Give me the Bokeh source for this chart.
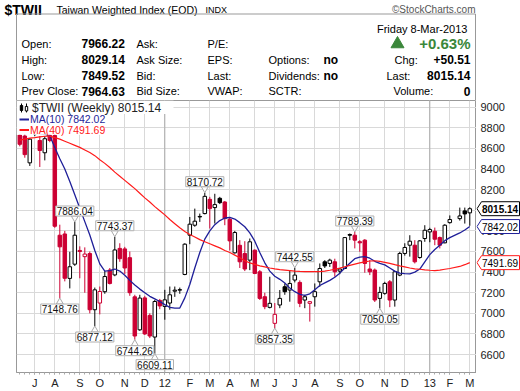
import numpy as np
import pandas as pd
from bokeh.plotting import figure
from bokeh.layouts import column, row
from bokeh.models import Range1d, FixedTicker, Span, Label, ColumnDataSource, Grid
from bokeh.embed import file_html
from bokeh.resources import INLINE
from bokeh.core.properties import value

FONT = "Liberation Sans"
RED = "#cc0033"
BLUE = "#1f1f99"
MA40C = "#ff1a1a"
GRID = "#d9d9d9"
GREEN = "#3b873b"

# ---------------- data ----------------
week_ending = pd.date_range("2011-06-17", "2013-03-08", freq="W-FRI")
week_ending = week_ending[week_ending != pd.Timestamp("2013-02-15")]  # no trading (Lunar New Year)

opens = [8730, 8720, 8460, 8790, 8677, 8558, 8726, 8726, 7758, 7770,
         7339, 7477, 7610, 7550, 7580, 7035, 7100, 7210, 7420, 7373,
         7630, 7625, 7540, 7160, 6840, 7150, 6980, 6770, 7125, 7067,
         7100, 7215, 7225, 7377, 7758, 7855, 7940, 7968, 8106, 8026,
         8116, 8080, 7913, 7587, 7660, 7580, 7516, 7613, 7403, 7161,
         7058, 6903, 7081, 7258, 7226, 7323, 7300, 7129, 7097, 7161,
         7306, 7500, 7484, 7500, 7410, 7435, 7765, 7758, 7695, 7710,
         7430, 7420, 7145, 7194, 7306, 7129, 7371, 7581, 7661, 7661,
         7542, 7726, 7790, 7797, 7735, 7684, 7880, 7919, 7994, 7975]
highs = [8790, 8760, 8700, 8830, 8720, 8720, 8780, 8760, 7860, 7800,
         7597, 7886.04, 7650, 7640, 7600, 7250, 7260, 7410, 7440, 7743.37,
         7680, 7645, 7600, 7180, 7180, 7170, 7000, 7130, 7140, 7228,
         7260, 7260, 7250, 7680, 7935, 8016, 7968, 8170.72, 8130, 8160,
         8130, 8090, 7935, 7800, 7710, 7700, 7726, 7620, 7420, 7200,
         7355, 7100, 7226, 7290, 7420, 7442.55, 7320, 7180, 7120, 7290,
         7484, 7516, 7530, 7530, 7440, 7740, 7775, 7789.39, 7710, 7720,
         7516, 7435, 7258, 7306, 7323, 7410, 7597, 7680, 7758, 7710,
         7710, 7855, 7830, 7832, 7745, 7865, 7950, 8026, 8026, 8029.14]
lows = [8620, 8510, 8430, 8720, 8420, 8484, 8660, 7830, 7148.76, 7310,
        7242, 7460, 7340, 7200, 7000, 6877.12, 6990, 7190, 7280, 7360,
        7500, 7380, 7170, 6744.26, 6830, 6790, 6760, 6609.11, 7040, 6938,
        7035, 7160, 7190, 7370, 7671, 7840, 7887, 7960, 7823, 7871,
        8060, 7855, 7610, 7580, 7440, 7410, 7419, 7380, 7130, 7040,
        7048, 6857.35, 7050, 7180, 7113, 7300, 7060, 7050, 6920, 7065,
        7258, 7440, 7450, 7355, 7380, 7430, 7710, 7630, 7597, 7394,
        7371, 7110, 7050.05, 7180, 7060, 7065, 7360, 7560, 7550, 7484,
        7530, 7694, 7690, 7661, 7630, 7680, 7870, 7900, 7871, 7849.52]
closes = [8640, 8540, 8690, 8740, 8580, 8694, 8677, 7845, 7645, 7340,
          7452, 7758, 7600, 7575, 7035, 7228, 7212, 7357, 7290, 7615,
          7530, 7440, 7200, 6780, 7148, 6800, 6780, 7115, 7072, 7131,
          7180, 7225, 7230, 7671, 7865, 7894, 7935, 8135, 8016, 8055,
          8074, 7919, 7703, 7784, 7500, 7430, 7694, 7387, 7145, 7065,
          7097, 6990, 7145, 7210, 7290, 7371, 7097, 7161, 7113, 7210,
          7435, 7460, 7516, 7403, 7430, 7735, 7758, 7710, 7684, 7484,
          7403, 7129, 7203, 7290, 7129, 7403, 7581, 7639, 7700, 7500,
          7703, 7806, 7813, 7719, 7661, 7855, 7910, 7945, 7964.63, 8015.14]
ma10 = [8760, 8755, 8750, 8748, 8745, 8738, 8722, 8610, 8500, 8400,
        8280, 8150, 8020, 7890, 7760, 7610, 7480, 7410, 7415, 7430,
        7410, 7370, 7320, 7275, 7235, 7200, 7165, 7140, 7115, 7085,
        7058, 7050, 7052, 7150, 7280, 7440, 7590, 7720, 7800, 7860,
        7900, 7925, 7930, 7915, 7880, 7840, 7780, 7700, 7590, 7490,
        7410, 7360, 7330, 7295, 7245, 7210, 7185, 7175, 7190, 7230,
        7270, 7295, 7320, 7350, 7390, 7440, 7485, 7530, 7545, 7550,
        7535, 7505, 7485, 7470, 7440, 7410, 7390, 7385, 7383, 7400,
        7430, 7500, 7570, 7620, 7660, 7705, 7735, 7780, 7808, 7842.02]
ma40 = [8680, 8690, 8700, 8705, 8712, 8718, 8720, 8705, 8690, 8670,
        8650, 8630, 8610, 8585, 8560, 8530, 8490, 8455, 8415, 8370,
        8330, 8290, 8250, 8210, 8165, 8120, 8080, 8035, 7995, 7955,
        7910, 7870, 7830, 7795, 7765, 7740, 7715, 7695, 7675, 7655,
        7635, 7610, 7590, 7565, 7540, 7510, 7490, 7475, 7460, 7450,
        7440, 7432, 7425, 7420, 7415, 7410, 7407, 7405, 7404, 7404,
        7405, 7410, 7418, 7428, 7438, 7452, 7465, 7478, 7490, 7500,
        7508, 7510, 7505, 7495, 7485, 7472, 7460, 7450, 7440, 7432,
        7428, 7422, 7418, 7415, 7420, 7428, 7435, 7455, 7472, 7491.69]

month_pos = [3, 7, 12, 16, 21, 25, 29, 34, 38, 42, 47, 51, 55, 59, 64, 68, 73, 77, 82, 86, 90]
month_labels = ["J", "A", "S", "O", "N", "D", "12", "F", "M", "A", "M",
                "J", "J", "A", "S", "O", "N", "D", "13", "F", "M"]
price_ticks = list(range(6600, 9001, 200))

high_marks = [11, 19, 37, 55, 67]       # weeks whose high is annotated
low_marks = [8, 15, 23, 27, 51, 72]     # weeks whose low is annotated

symbol = "$TWII"
name = "Taiwan Weighted Index (EOD)"
exch = "INDX"
day_text = "Friday  8-Mar-2013"
info_left = [("Open:", "7966.22"), ("High:", "8029.14"), ("Low:", "7849.52"), ("Prev Close:", "7964.63")]
info_mid1 = ["Ask:", "Ask Size:", "Bid:", "Bid Size:"]
info_mid2 = ["P/E:", "EPS:", "Last:", "VWAP:"]
info_mid3 = [("Options:", "no"), ("Dividends:", "no"), ("SCTR:", "")]
pct_change = "+0.63%"
info_right = [("Chg:", "+50.51"), ("Last:", "8015.14"), ("Volume:", "0")]

# ---------------- derived ----------------
x = ((week_ending - week_ending[0]).days // 7).to_numpy()
o = np.array(opens, float); h = np.array(highs, float)
l = np.array(lows, float); c = np.array(closes, float)
prev = np.concatenate([[o[0]], c[:-1]])
col = np.where(c >= prev, "#000000", RED)
fill = np.where(c > o, "#ffffff", col)
src = ColumnDataSource(dict(x=x, o=o, h=h, l=l, c=c, top=np.maximum(o, c), bot=np.minimum(o, c),
                            col=col, fill=fill))
pos_of = {int(v): i for i, v in enumerate(x)}

# ---------------- header figure (pixel coordinates) ----------------
hdr = figure(width=520, height=100, x_range=Range1d(0, 520), y_range=Range1d(100, 0),
             output_backend="svg", toolbar_location=None, x_axis_location=None,
             y_axis_location=None, min_border=0)
hdr.grid.visible = False
hdr.outline_line_color = None
hdr.background_fill_color = "white"
hdr.border_fill_color = "white"


def htext(xs, ys, ts, size="11px", bold=False, align="left", color="#000000"):
    hdr.text(x=xs, y=ys, text=ts, text_font=value(FONT), text_font_size=size,
             text_font_style="bold" if bold else "normal", text_align=align,
             text_baseline="middle", text_color=color)


htext([4], [9], [symbol], size="14px", bold=True)
htext([56], [9], [name], size="10.5px")
htext([205], [9], [exch], size="9px")
htext([475], [8.5], ["\u00a9StockCharts.com"], size="10px", align="right", color="#555555")
hdr.line(x=[16, 16, 475, 475], y=[101, 13.5, 13.5, 101], line_color="#999999", line_width=1)

row_y = [43, 59, 75, 90.5]
htext([470], [28.5], [day_text], size="11px", align="right")
htext([21] * 4, row_y, [a for a, _ in info_left], size="11px")
htext([81] * 4, row_y, [b for _, b in info_left], size="12px", bold=True)
htext([136] * 4, row_y, info_mid1, size="11px")
htext([207] * 4, row_y, info_mid2, size="11px")
htext([268] * 3, row_y[1:], [a for a, _ in info_mid3], size="11px")
htext([323] * 2, row_y[1:3], [b for _, b in info_mid3[:2]], size="12px", bold=True)
hdr.scatter(x=[397], y=[43.5], marker="triangle", size=13, fill_color=GREEN, line_color=GREEN)
htext([470], [43], [pct_change], size="15px", bold=True, align="right", color=GREEN)
htext([394, 386, 393], row_y[1:], [a for a, _ in info_right], size="11px")
htext([470] * 3, row_y[1:], [b for _, b in info_right], size="12px", bold=True, align="right")

# ---------------- main chart ----------------
FRAME_W, FRAME_H = 460, 273
p = figure(width=476, height=291, x_range=Range1d(-0.66, 91.34), y_range=Range1d(6426, 9065),
           output_backend="svg", toolbar_location=None, y_axis_location=None,
           min_border_left=16, min_border_right=0, min_border_top=0, min_border_bottom=18)
p.background_fill_color = "white"
p.border_fill_color = "white"
p.outline_line_color = "#999999"
p.extra_x_ranges = {"px": Range1d(0, FRAME_W)}
p.extra_y_ranges = {"py": Range1d(FRAME_H, 0)}

p.xgrid.ticker = FixedTicker(ticks=month_pos)
if len(p.ygrid) == 0:
    p.add_layout(Grid(dimension=1, ticker=FixedTicker(ticks=price_ticks)))
else:
    p.ygrid.ticker = FixedTicker(ticks=price_ticks)
p.grid.grid_line_color = GRID
for mp, ml in zip(month_pos, month_labels):
    if ml.isdigit():
        p.add_layout(Span(location=mp, dimension="height", line_color="#aaaaaa",
                          line_width=1, level="underlay"))

xa = p.xaxis[0]
xa.ticker = FixedTicker(ticks=month_pos, minor_ticks=[int(v) for v in x])
xa.major_label_overrides = {int(mp): ml for mp, ml in zip(month_pos, month_labels)}
xa.axis_line_color = "#999999"
xa.major_tick_line_color = "#999999"
xa.minor_tick_line_color = "#aaaaaa"
xa.major_tick_out = 2
xa.major_tick_in = 0
xa.minor_tick_out = 2
xa.minor_tick_in = 0
xa.major_label_standoff = 2
xa.major_label_text_font = FONT
xa.major_label_text_font_size = "11px"
xa.major_label_text_color = "#222222"

# candles
p.segment(x0="x", y0="l", x1="x", y1="h", line_color="col", line_width=1, source=src)
p.vbar(x="x", width=0.7, top="top", bottom="bot", fill_color="fill", line_color="col",
       line_width=1, source=src)

# moving averages
p.line(x, ma10, line_color=BLUE, line_width=1.3)
p.line(x, ma40, line_color=MA40C, line_width=1.2)

# annotated highs / lows
ppx = (p.y_range.end - p.y_range.start) / FRAME_H
hx = list(high_marks)
hy = [h[pos_of[m]] for m in high_marks]
lx = list(low_marks)
ly = [l[pos_of[m]] for m in low_marks]
p.scatter(x=hx, y=[v + 4 * ppx for v in hy], marker="inverted_triangle", size=7,
          fill_color="white", line_color="#aaaaaa")
p.scatter(x=lx, y=[v - 4 * ppx for v in ly], marker="triangle", size=7,
          fill_color="white", line_color="#aaaaaa")


def note(xv, yv, up):
    lab = Label(x=xv, y=yv, y_offset=6 if up else -6, text=f"{yv:.2f}", text_align="center",
                text_baseline="bottom" if up else "top", text_font=FONT,
                text_font_size="10px", text_color="#111111",
                background_fill_color="white", border_line_color="#b0b0b0")
    try:
        lab.padding = 1
    except Exception:
        pass
    p.add_layout(lab)


for xv, yv in zip(hx, hy):
    note(xv, yv, True)
for xv, yv in zip(lx, ly):
    note(xv, yv, False)

# legend (top-left, pixel coordinates inside the frame)
kw = dict(x_range_name="px", y_range_name="py")
p.quad(left=[0, 0], right=[157, 84], top=[0, 13.5], bottom=[13.5, 34.5],
       fill_color="white", line_color=None, **kw)
p.segment(x0=[5, 10], y0=[3, 3], x1=[5, 10], y1=[12, 12], line_color="#000000", **kw)
p.quad(left=[3.8, 8.8], right=[6.2, 11.2], top=[5, 6], bottom=[10, 10.5],
       fill_color=["#000000", "white"], line_color="#000000", **kw)
p.text(x=[15.5], y=[7.5], text=[f"{symbol} (Weekly) {c[-1]:.2f}"], text_font=value(FONT),
       text_font_size="12px", text_baseline="middle", text_color="#222222", **kw)
p.segment(x0=[3, 3], y0=[19, 29.5], x1=[12.5, 12.5], y1=[19, 29.5],
          line_color=[BLUE, MA40C], line_width=2, **kw)
p.text(x=[13.5], y=[19], text=[f"MA(10) {ma10[-1]:.2f}"], text_font=value(FONT),
       text_font_size="10.5px", text_baseline="middle", text_color=BLUE, **kw)
p.text(x=[13.5], y=[29.5], text=[f"MA(40) {ma40[-1]:.2f}"], text_font=value(FONT),
       text_font_size="10.5px", text_baseline="middle", text_color=MA40C, **kw)

# ---------------- right price scale with last-value tags ----------------
ax = figure(width=44, height=291, x_range=Range1d(0, 44), y_range=p.y_range,
            output_backend="svg", toolbar_location=None, x_axis_location=None,
            y_axis_location=None, min_border_left=0, min_border_right=0, min_border_top=0,
            min_border_bottom=18)
ax.grid.visible = False
ax.outline_line_color = None
ax.background_fill_color = "white"
ax.border_fill_color = "white"
ax.text(x=[4] * len(price_ticks), y=price_ticks, text=[str(t) for t in price_ticks],
        text_font=value(FONT), text_font_size="11px", text_baseline="middle",
        text_align="left", text_color="#222222")


def tag(price, color, bold):
    hh = 7 * ppx
    ax.patch(x=[0.5, 5, 43, 43, 5], y=[price, price + hh, price + hh, price - hh, price - hh],
             fill_color="white", line_color=color, line_width=1)
    ax.text(x=[5.5], y=[price], text=[f"{price:.2f}"], text_font=value(FONT),
            text_font_size="10px", text_font_style="bold" if bold else "normal",
            text_baseline="middle", text_align="left", text_color="#000000")


tag(ma40[-1], MA40C, False)
tag(ma10[-1], BLUE, False)
tag(c[-1], "#000000", True)

layout = column(hdr, row(p, ax))
open("out.html", "w").write(file_html(layout, INLINE, title="$TWII"))
